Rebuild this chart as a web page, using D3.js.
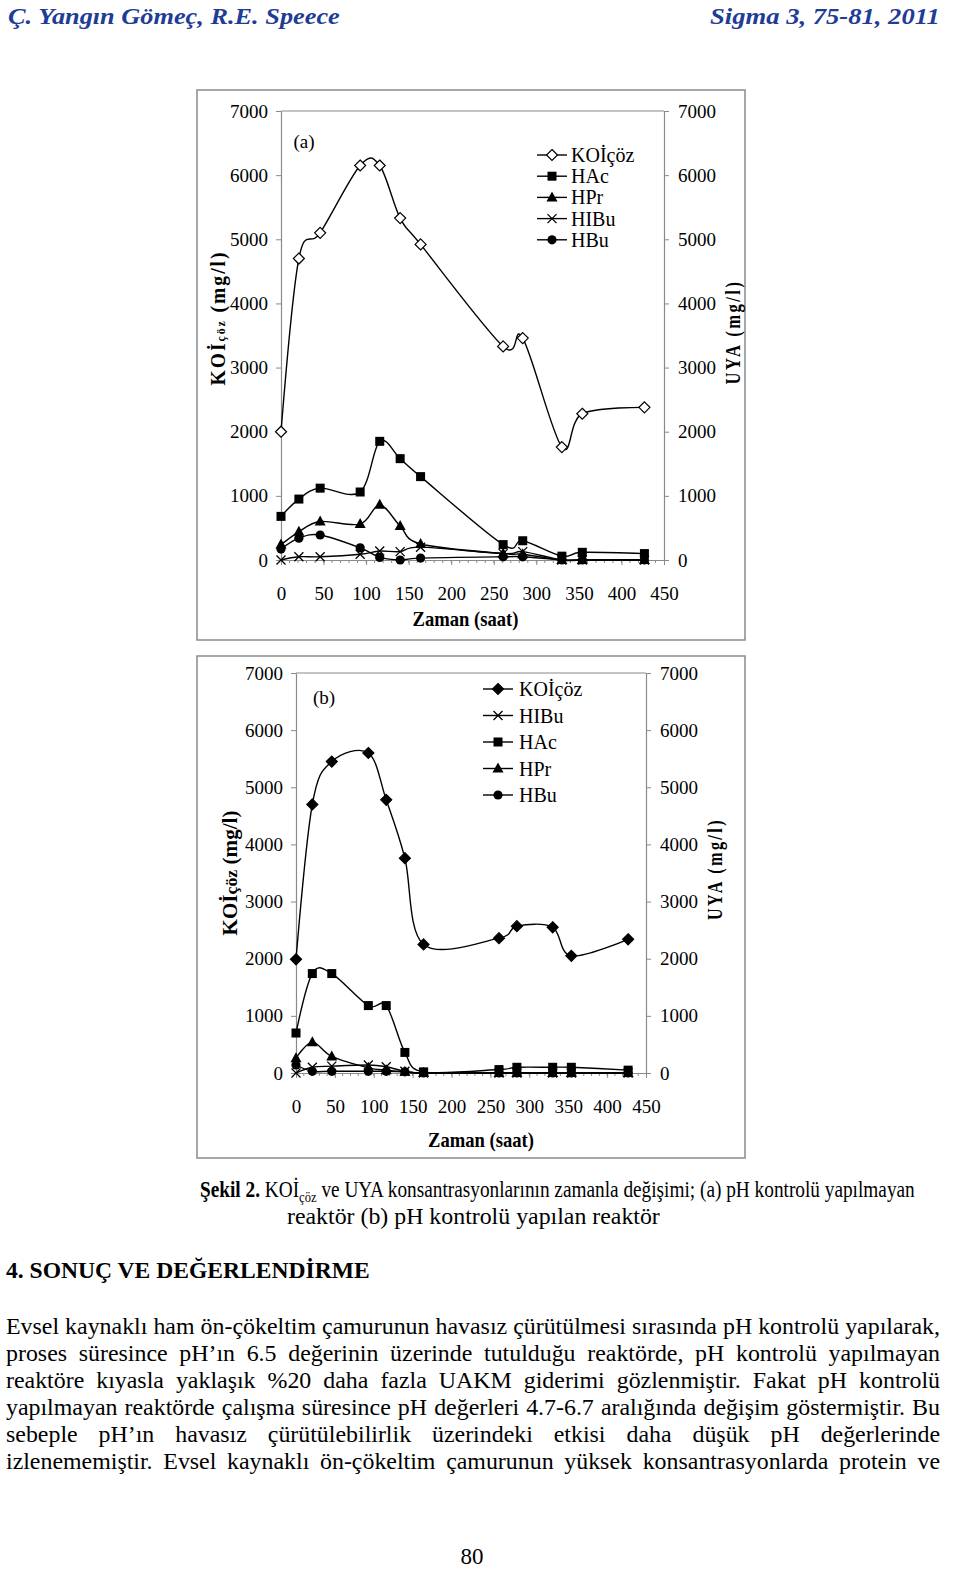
<!DOCTYPE html>
<html lang="tr">
<head>
<meta charset="UTF-8">
<title>Şekil 2</title>
<script src="https://d3js.org/d3.v7.min.js"></script>
<style>
  body { margin: 0; background: #fff; }
  text { font-family: "Liberation Serif", "Times New Roman", serif; fill: #000; }
</style>
</head>
<body>
<script>
// sampling times (saat), same for both reactors
const times = [0, 21, 46, 93, 116, 140, 164, 261, 284, 330, 354, 427];

// (a) reactor without pH control
const koiA  = [2000, 4700, 5100, 6150, 6150, 5330, 4920, 3330, 3460, 1760, 2280, 2380];
const hacA  = [680, 950, 1120, 1060, 1850, 1580, 1300, 240, 300, 60, 120, 100];
const hprA  = [240, 440, 600, 560, 860, 530, 250, 100, 90, 0, 0, 0];
const hibuA = [0, 50, 50, 90, 140, 130, 200, 100, 130, 0, 0, 0];
const hbuA  = [170, 340, 390, 190, 40, 0, 30, 50, 50, 0, 0, 0];

// (b) reactor with pH control
const koiB  = [1990, 4700, 5450, 5600, 4780, 3760, 2250, 2360, 2570, 2550, 2050, 2340];
const hacB  = [700, 1740, 1740, 1180, 1180, 360, 20, 60, 100, 100, 100, 50];
const hprB  = [260, 540, 290, 90, 50, 20, 0, 0, 0, 0, 0, 0];
const hibuB = [0, 100, 120, 140, 110, 30, 0, 0, 0, 0, 0, 0];
const hbuB  = [140, 30, 30, 30, 30, 20, 0, 0, 0, 0, 0, 0];

const xTicks = [0, 50, 100, 150, 200, 250, 300, 350, 400, 450];
const yTicks = [0, 1000, 2000, 3000, 4000, 5000, 6000, 7000];

const paragraph = [
  "Evsel kaynaklı ham ön-çökeltim çamurunun havasız çürütülmesi sırasında pH kontrolü yapılarak,",
  "proses süresince pH’ın 6.5 değerinin üzerinde tutulduğu reaktörde, pH kontrolü yapılmayan",
  "reaktöre kıyasla yaklaşık %20 daha fazla UAKM giderimi gözlenmiştir. Fakat pH kontrolü",
  "yapılmayan reaktörde çalışma süresince pH değerleri 4.7-6.7 aralığında değişim göstermiştir. Bu",
  "sebeple pH’ın havasız çürütülebilirlik üzerindeki etkisi daha düşük pH değerlerinde",
  "izlenememiştir. Evsel kaynaklı ön-çökeltim çamurunun yüksek konsantrasyonlarda protein ve"
];

const GREY = '#8a8a8a';
const svg = d3.select('body').append('svg').attr('width', 960).attr('height', 1595);
svg.append('rect').attr('width', 960).attr('height', 1595).attr('fill', '#fff');

// squeeze/stretch a text horizontally so it is `width` wide, centred on its group origin
function fitCenter(text, width) {
  const w = text.node().getComputedTextLength();
  text.attr('transform', `scale(${width / w},1) translate(${-w / 2},0)`);
}

// markers
const markers = {
  diamond: (g, fill) => g.append('path').attr('d', 'M0,-5.5L5.5,0L0,5.5L-5.5,0Z')
    .attr('fill', fill).attr('stroke', '#000').attr('stroke-width', 1.2),
  square: g => g.append('rect').attr('x', -4.5).attr('y', -4.5).attr('width', 9).attr('height', 9).attr('fill', '#000'),
  triangle: g => g.append('path').attr('d', 'M0,-6L5.5,4L-5.5,4Z').attr('fill', '#000'),
  circle: g => g.append('circle').attr('r', 4.6).attr('fill', '#000'),
  cross: g => g.append('path').attr('d', 'M-4.5,-4.5L4.5,4.5M-4.5,4.5L4.5,-4.5')
    .attr('stroke', '#000').attr('stroke-width', 1.3).attr('fill', 'none')
};

function drawPanel(p) {
  const x = d3.scaleLinear().domain([0, 450]).range([p.left, p.right]);
  const y = d3.scaleLinear().domain([0, 7000]).range([p.bottom, p.top]);
  const g = svg.append('g');

  g.append('rect').attr('x', p.box[0]).attr('y', p.box[1]).attr('width', p.box[2]).attr('height', p.box[3])
    .attr('fill', 'none').attr('stroke', GREY).attr('stroke-width', 1.5);

  // top border of plot area
  g.append('line').attr('x1', p.left).attr('x2', p.right).attr('y1', p.top).attr('y2', p.top)
    .attr('stroke', GREY).attr('stroke-width', 1.2);

  const styleAxis = a => {
    a.select('.domain').attr('stroke', GREY).attr('stroke-width', 1.2);
    a.selectAll('.tick line').attr('stroke', GREY);
    a.selectAll('.tick text').attr('font-size', 19).attr('fill', '#000');
  };

  g.append('g').attr('transform', `translate(${p.left},0)`)
    .call(d3.axisLeft(y).tickValues(yTicks).tickSize(5).tickSizeOuter(0).tickPadding(8).tickFormat(d3.format('d')))
    .call(styleAxis);
  g.append('g').attr('transform', `translate(${p.right},0)`)
    .call(d3.axisRight(y).tickValues(yTicks).tickSize(5).tickSizeOuter(0).tickPadding(9).tickFormat(d3.format('d')))
    .call(styleAxis);

  // minor ticks on the time axis
  g.append('g').selectAll('line').data(d3.range(10, 450, 10)).join('line')
    .attr('x1', d => x(d)).attr('x2', d => x(d)).attr('y1', p.bottom).attr('y2', p.bottom + 3)
    .attr('stroke', GREY);
  g.append('g').attr('transform', `translate(0,${p.bottom})`)
    .call(d3.axisBottom(x).tickValues(xTicks).tickSize(5).tickSizeOuter(0).tickPadding(22).tickFormat(d3.format('d')))
    .call(styleAxis);

  const xt = g.append('g').attr('transform', `translate(${(p.left + p.right) / 2 - p.titleShift},${p.xTitleY})`)
    .append('text').attr('font-size', 21).attr('font-weight', 'bold').text('Zaman (saat)');
  fitCenter(xt, 106);

  g.append('text').attr('x', p.tag[0]).attr('y', p.tag[1]).attr('dy', '0.35em')
    .attr('text-anchor', 'middle').attr('font-size', 19).text(p.tagText);

  // series
  const line = d3.line().x((d, i) => x(times[i])).y(d => y(d)).curve(d3.curveCatmullRom.alpha(0));
  p.series.forEach(s => {
    g.append('path').attr('d', line(s.values)).attr('fill', 'none')
      .attr('stroke', '#000').attr('stroke-width', 1.4);
  });
  p.series.forEach(s => {
    s.values.forEach((v, i) => {
      const m = g.append('g').attr('transform', `translate(${x(times[i])},${y(v)})`);
      markers[s.marker](m, s.fill);
    });
  });

  // legend
  p.legendOrder.forEach((key, k) => {
    const s = p.series.find(d => d.name === key);
    const ly = p.legend.y0 + k * p.legend.dy;
    g.append('line').attr('x1', p.legend.x0).attr('x2', p.legend.x0 + 30).attr('y1', ly).attr('y2', ly)
      .attr('stroke', '#000').attr('stroke-width', 1.4);
    const m = g.append('g').attr('transform', `translate(${p.legend.x0 + 15},${ly})`);
    markers[s.marker](m, s.fill);
    g.append('text').attr('x', p.legend.tx).attr('y', ly).attr('dy', '0.35em')
      .attr('font-size', 20).text(key);
  });

  // rotated axis titles
  const left = g.append('g').attr('transform', `translate(${p.yl[0]},${p.yl[1]}) rotate(-90)`);
  const lt = left.append('text').attr('dy', '0.35em').attr('font-weight', 'bold').attr('font-size', 20)
    .attr('letter-spacing', p.ylSpacing);
  lt.append('tspan').text('KOİ');
  lt.append('tspan').attr('font-size', p.subSize).text('çöz');
  lt.append('tspan').text(' (mg/l)');
  fitCenter(lt, p.yl[2]);

  const right = g.append('g').attr('transform', `translate(${p.yr[0]},${p.yr[1]}) rotate(-90)`);
  const rt = right.append('text').attr('dy', '0.35em').attr('font-weight', 'bold').attr('font-size', 20)
    .attr('letter-spacing', 3).text('UYA (mg/l)');
  fitCenter(rt, p.yr[2]);
}

drawPanel({
  left: 281, right: 664, top: 111, bottom: 560,
  box: [197, 90, 548, 550], xTitleY: 626, titleShift: 7,
  tag: [304, 141], tagText: '(a)',
  yl: [218, 318, 135], ylSpacing: 2, subSize: 12,
  yr: [733, 332, 105],
  legend: { x0: 537, tx: 571, y0: 155, dy: 21.2 },
  legendOrder: ['KOİçöz', 'HAc', 'HPr', 'HIBu', 'HBu'],
  series: [
    { name: 'KOİçöz', values: koiA, marker: 'diamond', fill: '#fff' },
    { name: 'HAc', values: hacA, marker: 'square' },
    { name: 'HPr', values: hprA, marker: 'triangle' },
    { name: 'HIBu', values: hibuA, marker: 'cross' },
    { name: 'HBu', values: hbuA, marker: 'circle' }
  ]
});

drawPanel({
  left: 296, right: 646, top: 673, bottom: 1073,
  box: [197, 656, 548, 502], xTitleY: 1147, titleShift: -10,
  tag: [324, 697], tagText: '(b)',
  yl: [230, 873, 125], ylSpacing: 0, subSize: 17,
  yr: [715, 869, 102],
  legend: { x0: 483, tx: 519, y0: 689, dy: 26.5 },
  legendOrder: ['KOİçöz', 'HIBu', 'HAc', 'HPr', 'HBu'],
  series: [
    { name: 'KOİçöz', values: koiB, marker: 'diamond', fill: '#000' },
    { name: 'HAc', values: hacB, marker: 'square' },
    { name: 'HPr', values: hprB, marker: 'triangle' },
    { name: 'HIBu', values: hibuB, marker: 'cross' },
    { name: 'HBu', values: hbuB, marker: 'circle' }
  ]
});

// page header
function headerText(x0, x1, str) {
  const g = svg.append('g').attr('transform', `translate(${(x0 + x1) / 2},24)`);
  const t = g.append('text').attr('font-size', 24).attr('font-weight', 'bold').attr('font-style', 'italic')
    .style('fill', '#1f3c96').text(str);
  fitCenter(t, x1 - x0);
}
headerText(8, 340, 'Ç. Yangın Gömeç, R.E. Speece');
headerText(710, 940, 'Sigma 3, 75-81, 2011');

// caption
{
  const g1 = svg.append('g').attr('transform', 'translate(557.5,1197)');
  const t1 = g1.append('text').attr('font-size', 23);
  t1.append('tspan').attr('font-weight', 'bold').text('Şekil 2.');
  t1.append('tspan').text(' KOİ');
  t1.append('tspan').attr('font-size', 15).attr('dy', 5).text('çöz');
  t1.append('tspan').attr('dy', -5).text(' ve UYA konsantrasyonlarının zamanla değişimi; (a) pH kontrolü yapılmayan');
  fitCenter(t1, 715);

  const g2 = svg.append('g').attr('transform', 'translate(473.5,1224)');
  const t2 = g2.append('text').attr('font-size', 23).text('reaktör (b) pH kontrolü yapılan reaktör');
  fitCenter(t2, 373);

  const g3 = svg.append('g').attr('transform', 'translate(188,1278)');
  const t3 = g3.append('text').attr('font-size', 23).attr('font-weight', 'bold').text('4. SONUÇ VE DEĞERLENDİRME');
  fitCenter(t3, 364);
}

// justified paragraph
{
  const W = 934, x0 = 6;
  const probe = svg.append('text').attr('font-size', 23).text(paragraph[0]);
  const s = W / probe.node().getComputedTextLength();
  probe.remove();
  paragraph.forEach((str, i) => {
    const g = svg.append('g').attr('transform', `translate(${x0},${1334 + i * 27}) scale(${s},1)`);
    const t = g.append('text').attr('font-size', 23).text(str);
    const w = t.node().getComputedTextLength();
    const spaces = str.split(' ').length - 1;
    t.attr('word-spacing', (W / s - w) / spaces);
  });
}

svg.append('text').attr('x', 472).attr('y', 1564).attr('text-anchor', 'middle').attr('font-size', 23).text('80');
</script>
</body>
</html>
